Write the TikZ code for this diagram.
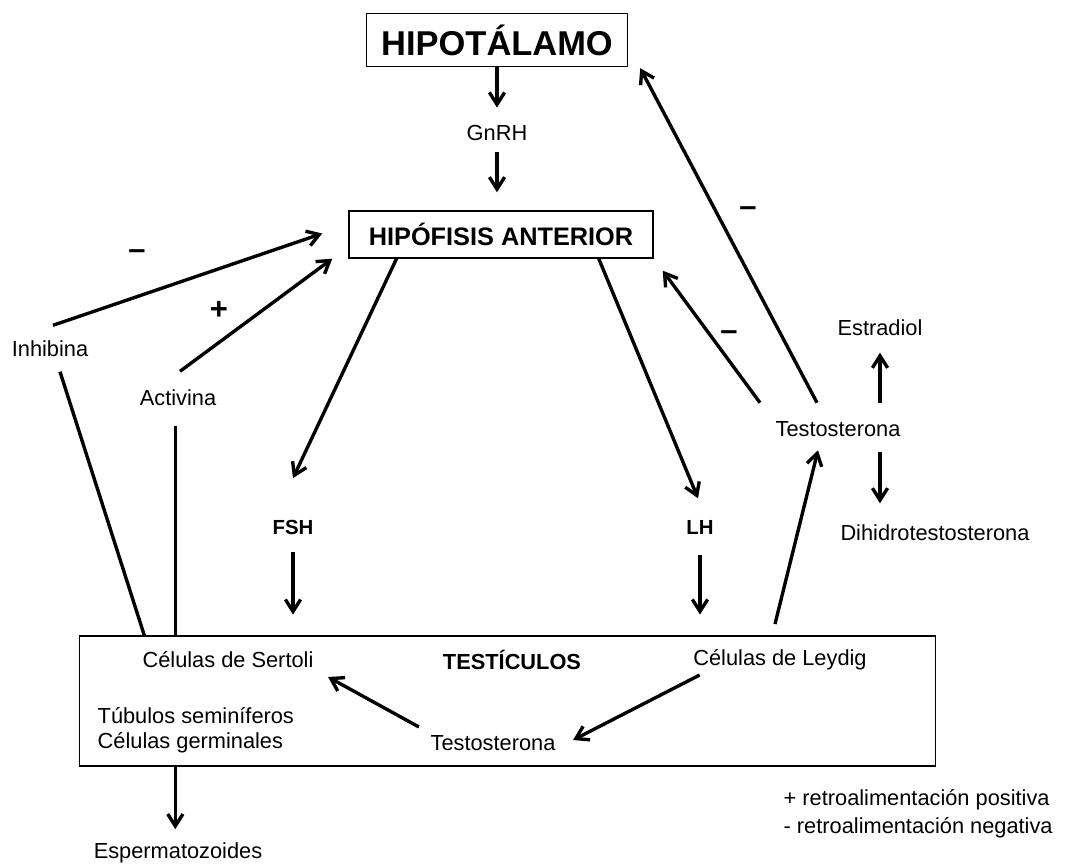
\documentclass[tikz,border=0pt]{standalone}
\usepackage{fontspec}
\setmainfont{Liberation Sans}
\usetikzlibrary{arrows.meta, calc, positioning}
\tikzset{
    caja/.style={draw, line width=1pt, inner sep=0pt},
    txt/.style={font=\fontsize{15.5}{18}\selectfont, inner sep=1pt},
    horm/.style={font=\bfseries\fontsize{14.5}{17}\selectfont, inner sep=1pt},
    signo/.style={font=\bfseries\fontsize{22}{24}\selectfont, inner sep=0pt},
    flecha/.style={line width=2.4pt, -{Straight Barb[length=3mm, width=3.8mm]}},
    linea/.style={line width=2.4pt}
}

\begin{document}
\begin{tikzpicture}[x=0.025cm, y=-0.025cm]
    \useasboundingbox (0,0) rectangle (1068,867);
    % cajas
    \node[caja, minimum width=6.525cm, minimum height=1.325cm, font=\bfseries\fontsize{24.5}{28}\selectfont] (hipot) at (497,40) {HIPOTÁLAMO};
    \node[caja, minimum width=7.6cm, minimum height=1.175cm, font=\bfseries\fontsize{18}{21}\selectfont] (hipof) at (501,234.5) {HIPÓFISIS ANTERIOR};
    \node[caja, line width=0.8pt, minimum width=21.375cm, minimum height=3.25cm] (testic) at (507.5,701) {};
    % textos
    \node[txt] (gnrh) at (497,133) {GnRH};
    \node[txt] (inh) at (50,349) {Inhibina};
    \node[txt] (act) at (178,398) {Activina};
    \node[horm] (fsh) at (293,527) {FSH};
    \node[horm] (lh) at (700,527) {LH};
    \node[txt] (estr) at (880,328) {Estradiol};
    \node[txt] (testR) at (838,429) {Testosterona};
    \node[txt] (dht) at (935,533) {Dihidrotestosterona};
    \node[font=\bfseries\fontsize{15.5}{18}\selectfont, inner sep=1pt] (tit) at (512,660) {TESTÍCULOS};
    \node[txt] (sert) at (228,660) {Células de Sertoli};
    \node[txt] (leyd) at (780,660) {Células de Leydig};
    \node[txt, anchor=west] (tub) at (96,716) {Túbulos seminíferos};
    \node[txt, anchor=west] (germ) at (96,743) {Células germinales};
    \node[txt] (testI) at (493,743) {Testosterona};
    \node[txt] (esperm) at (178,853) {Espermatozoides};
    \node[signo] (m1) at (137,255) {–};
    \node[signo] (p1) at (219,310) {+};
    \node[signo] (m2) at (748,212) {–};
    \node[signo] (m3) at (729,336) {–};
    \node[txt, anchor=west] (leg1) at (782,800) {+ retroalimentación positiva};
    \node[txt, anchor=west] (leg2) at (782,828) {- retroalimentación negativa};
    \coordinate (sa) at ($(testic.north west)+(96,0)$);
    \coordinate (sb) at ($(testic.south west)+(96,0)$);
    % eje central
    \draw[flecha, shorten >=0.4cm] (hipot.south) -- (hipot.south |- gnrh.north);
    \draw[flecha, shorten <=0.25cm, shorten >=0.45cm] (gnrh.south) -- (gnrh.south |- hipof.north);
    \draw[flecha] ($(hipof.south west)!0.158!(hipof.south east)$) -- ($(fsh.north)+(0,-40)$);
    \draw[flecha] ($(hipof.south west)!0.82!(hipof.south east)$) -- ($(lh.north)+(-2,-20)$);
    \draw[flecha, shorten <=0.4cm, shorten >=0.52cm] (fsh.south) -- (fsh.south |- testic.north);
    \draw[flecha, shorten <=0.47cm, shorten >=0.52cm] (lh.south) -- (lh.south |- testic.north);
    % retroalimentacion
    \draw[flecha] ($(inh.north)+(3,-14)$) -- ($(hipof.west)+(-26,-1)$);
    \draw[flecha] ($(act.north)+(2,-17)$) -- ($(hipof.south west)+(-16,0)$);
    \draw[linea] ($(inh.south)+(10,13)$) -- ($(testic.north west)+(65,0)$);
    \draw[linea, shorten <=0.45cm] (sa |- act.south) -- (sa);
    \draw[flecha] ($(leyd.north)+(-5,-24)$) -- ($(testR.south)+(-20,12)$);
    \draw[flecha] ($(testR.north)+(-21,-17)$) -- ($(hipot.south east)+(12,1)$);
    \draw[flecha] ($(testR.north)+(-78,-17)$) -- ($(hipof.south east)+(9,12)$);
    \draw[flecha] ($(estr.south |- testR.north)+(0,-17)$) -- ($(estr.south)+(0,15)$);
    \draw[flecha] ($(estr.south |- testR.south)+(0,14)$) -- ($(estr.south |- dht.north)+(0,-20)$);
    % dentro de los testiculos
    \draw[flecha] ($(testI.west)+(-10,-16)$) -- ($(sert.east)+(13,17)$);
    \draw[flecha] ($(leyd.west)+(8,15)$) -- ($(testI.east)+(16,-3)$);
    \draw[flecha, shorten >=0.3cm] (sb) -- (sb |- esperm.north);
\end{tikzpicture}
\end{document}
